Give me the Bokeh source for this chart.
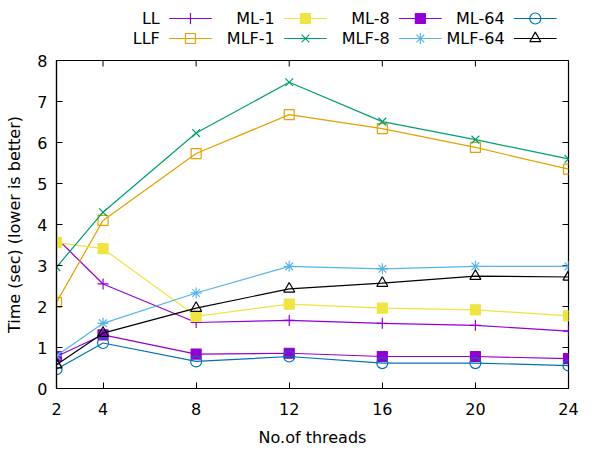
import math
from bokeh.plotting import figure
from bokeh.models import Range1d, FixedTicker
from bokeh.layouts import column
from bokeh.core.properties import value
from bokeh.embed import file_html
from bokeh.resources import INLINE

# ---------------- data ----------------
threads = [2, 4, 8, 12, 16, 20, 24]
x_ticks = [2, 4, 8, 12, 16, 20, 24]
y_ticks = [0, 1, 2, 3, 4, 5, 6, 7, 8]

ll = [3.67, 2.55, 1.61, 1.66, 1.59, 1.54, 1.40]
llf = [2.10, 4.10, 5.73, 6.68, 6.34, 5.88, 5.35]
ml_1 = [3.56, 3.41, 1.76, 2.06, 1.96, 1.92, 1.77]
mlf_1 = [2.96, 4.30, 6.23, 7.47, 6.51, 6.07, 5.60]
ml_8 = [0.78, 1.31, 0.84, 0.86, 0.78, 0.78, 0.73]
mlf_8 = [0.80, 1.59, 2.33, 2.98, 2.92, 2.98, 2.98]
ml_64 = [0.47, 1.11, 0.66, 0.78, 0.62, 0.62, 0.56]
mlf_64 = [0.58, 1.35, 1.96, 2.43, 2.57, 2.74, 2.72]

labels = ["LL", "LLF", "ML-1", "MLF-1", "ML-8", "MLF-8", "ML-64", "MLF-64"]
series = [ll, llf, ml_1, mlf_1, ml_8, mlf_8, ml_64, mlf_64]
colors = ["#9400D3", "#E69F00", "#F0E442", "#009E73",
          "#9400D3", "#56B4E9", "#0072B2", "#000000"]
markers = ["cross", "square", "square", "x", "square", "asterisk", "circle", "triangle"]
filled = [False, False, True, False, True, False, False, False]

FONT = "DejaVu Sans"
FS = "16px"

# ---------------- legend figure (gnuplot-style: text then sample) ----------------
leg = figure(width=600, height=50, x_range=Range1d(0, 600), y_range=Range1d(50, 0),
             x_axis_type=None, y_axis_type=None, output_backend="svg",
             toolbar_location=None, min_border=0)
leg.outline_line_color = None
leg.grid.visible = False

col_x0, col_dx = 121, 134.7
row_y0, row_dy = 18, 20
for i, (lab, c, m, f) in enumerate(zip(labels, colors, markers, filled)):
    col, row = i // 2, i % 2
    tx = col_x0 + col * col_dx
    ty = row_y0 + row * row_dy
    leg.text(x=[tx], y=[ty], text=[lab], text_align="right", text_baseline="middle",
             text_font=value(FONT), text_font_size=FS, text_color="black")
    leg.segment(x0=[tx + 11], x1=[tx + 61], y0=[ty], y1=[ty], line_color=c, line_width=1.2)
    leg.scatter(x=[tx + 36], y=[ty], marker=m, size=11 if m != "square" else 10,
                line_color=c, line_width=1.2, fill_color=c if f else None)

# ---------------- main figure ----------------
p = figure(width=600, height=400, x_range=Range1d(2, 24), y_range=Range1d(0, 8),
           output_backend="svg", toolbar_location=None,
           min_border_left=56, min_border_right=32, min_border_top=10, min_border_bottom=62)
p.grid.visible = False
p.outline_line_color = "black"
p.outline_line_width = 1.2

p.xaxis.ticker = FixedTicker(ticks=x_ticks, minor_ticks=[])
p.yaxis.ticker = FixedTicker(ticks=y_ticks, minor_ticks=[])
for ax in (p.xaxis, p.yaxis):
    ax.major_tick_in = 6
    ax.major_tick_out = 0
    ax.minor_tick_in = 0
    ax.minor_tick_out = 0
    ax.axis_line_color = "black"
    ax.axis_line_width = 1.2
    ax.major_tick_line_color = "black"
    ax.major_label_text_font = FONT
    ax.major_label_text_font_size = FS
    ax.major_label_text_color = "black"
    ax.axis_label_text_font = FONT
    ax.axis_label_text_font_size = FS
    ax.axis_label_text_font_style = "normal"
    ax.axis_label_text_color = "black"
    ax.axis_label_standoff = 10
p.xaxis.major_label_standoff = 14
p.xaxis.axis_label_standoff = 10
p.yaxis.major_label_standoff = 9
p.xaxis.axis_label = "No.of threads"
p.yaxis.axis_label = "Time (sec) (lower is better)"

# mirrored ticks on top and right (gnuplot style)
p.ray(x=x_ticks, y=[8] * len(x_ticks), length=6, length_units="screen",
      angle=-math.pi / 2, line_color="black", line_width=1)
p.ray(x=[24] * len(y_ticks), y=y_ticks, length=6, length_units="screen",
      angle=math.pi, line_color="black", line_width=1)

for ys, c, m, f in zip(series, colors, markers, filled):
    p.line(threads, ys, line_color=c, line_width=1.2)
    p.scatter(threads, ys, marker=m, size=11 if m != "square" else 10,
              line_color=c, line_width=1.2, fill_color=c if f else None)

layout = column(leg, p, spacing=0)
open("out.html", "w").write(file_html(layout, INLINE))
